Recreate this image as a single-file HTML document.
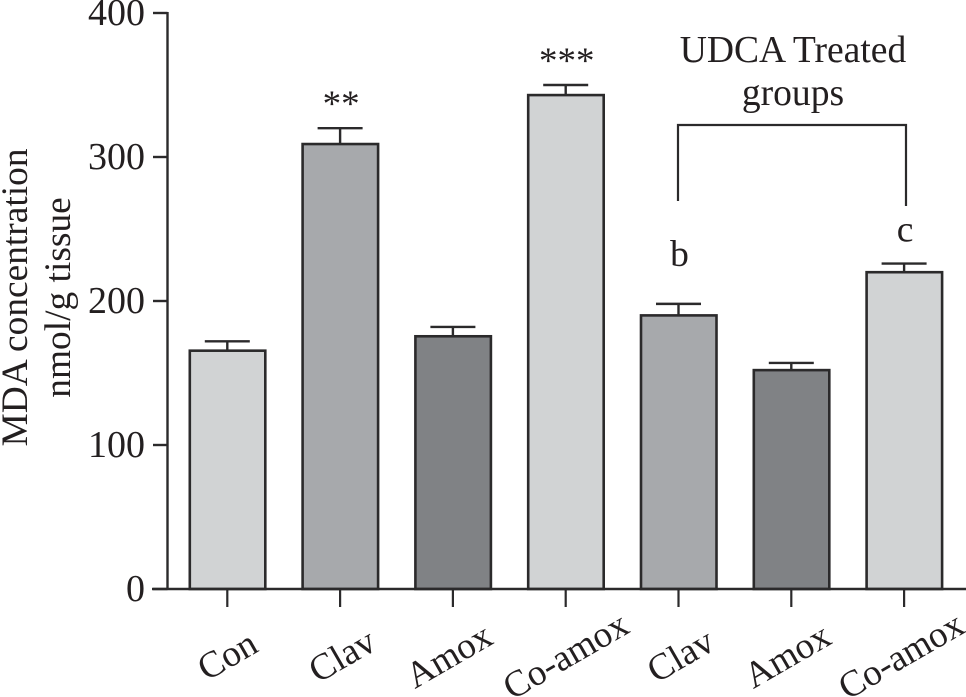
<!DOCTYPE html>
<html lang="en">
<head>
<meta charset="utf-8">
<title>MDA concentration bar chart</title>
<style>
html,body{margin:0;padding:0;background:#fff;}
svg{display:block;}
text{font-family:"Liberation Serif",serif;fill:#231f20;}
</style>
</head>
<body>
<svg id="chart" width="966" height="697" viewBox="0 0 966 697" xmlns="http://www.w3.org/2000/svg"></svg>
<script>
const categories = ['Con', 'Clav', 'Amox', 'Co-amox', 'Clav', 'Amox', 'Co-amox'];
const means = [165.5, 309, 175.5, 343, 190, 152, 220];
const errors = [6.5, 11, 6.5, 7, 8, 5, 6];
const yTicks = [0, 100, 200, 300, 400];
const barFills = ['#d1d3d4', '#a7a9ac', '#808285', '#d1d3d4', '#a7a9ac', '#808285', '#d1d3d4'];
const marks = ['', '**', '', '***', 'b', '', 'c'];

const svg = document.getElementById('chart');
const NS = 'http://www.w3.org/2000/svg';
const INK = '#2b2a2b';
const yScale = v => 589 - v * 1.44;
const xScale = i => 227.3 + i * 112.8;

function add(tag, attrs, parent, text) {
  const el = document.createElementNS(NS, tag);
  for (const k in attrs) el.setAttribute(k, attrs[k]);
  if (text !== undefined) el.textContent = text;
  (parent || svg).appendChild(el);
  return el;
}

function markBaseline(mark, errTop) {
  if (mark[0] === '*') return errTop - 12;
  if (mark === 'b') return errTop - 38;
  return errTop - 22;
}

function labelNudge(label, i) {
  if (label === 'Clav') return 2;
  if (label === 'Amox') return -4;
  if (label === 'Co-amox' && i > 3) return -3;
  return 0;
}

means.forEach((m, i) => {
  const cx = xScale(i);
  const top = yScale(m);
  const errTop = yScale(m + errors[i]);
  const stem = add('line', {x1: cx, x2: cx, y1: top, y2: errTop, stroke: INK, 'stroke-width': 2.4});
  
  
  const cap = add('line', {x1: cx - 22.5, x2: cx + 22.5, y1: errTop, y2: errTop, stroke: INK, 'stroke-width': 2.4});
  
  
  const bar = add('rect', {x: cx - 37.5, y: top, width: 75.5, height: 589 - top, fill: barFills[i], stroke: INK, 'stroke-width': 2.6});
  
  
  const tick = add('line', {x1: cx, x2: cx, y1: 589, y2: 607, stroke: INK, 'stroke-width': 2.2});
  
  
  const ax = cx + 6 + labelNudge(categories[i], i);
  const ay = 666;
  const lab = add('text', {x: ax, y: ay, 'font-size': 37, 'text-anchor': 'middle', transform: 'rotate(-30 ' + ax + ' ' + ay + ')'}, svg, categories[i]);
  
  
  if (marks[i]) {
    const isStar = marks[i][0] === '*';
    const mk = add('text', {x: cx + 1, y: markBaseline(marks[i], errTop), 'font-size': isStar ? 37 : 37.5, 'text-anchor': 'middle'}, svg, marks[i]);
    
    
  }
});

const yAxis = add('line', {x1: 167.5, x2: 167.5, y1: 12, y2: 590, stroke: INK, 'stroke-width': 2.4});


const xAxis = add('line', {x1: 152, x2: 966, y1: 589, y2: 589, stroke: INK, 'stroke-width': 2.6});



yTicks.forEach(v => {
  const y = yScale(v);
  const t = add('line', {x1: 153, x2: 167.5, y1: y, y2: y, stroke: INK, 'stroke-width': 2.4});
  
  
  const l = add('text', {x: 145, y: y + 12, 'font-size': 38, 'text-anchor': 'end'}, svg, String(v));
  
  
});

const yTitle1 = add('text', {x: 0, y: 0, 'font-size': 37.4, 'text-anchor': 'middle', transform: 'translate(27 297.5) rotate(-90)'}, svg, 'MDA concentration');


const yTitle2 = add('text', {x: 0, y: 0, 'font-size': 37.4, 'text-anchor': 'middle', transform: 'translate(70 297.5) rotate(-90)'}, svg, 'nmol/g tissue');



const bracket = add('path', {d: 'M678 201V125H906V206', fill: 'none', stroke: INK, 'stroke-width': 2.2});


const g1 = add('text', {x: 793, y: 62, 'font-size': 37.6, 'text-anchor': 'middle'}, svg, 'UDCA Treated');


const g2 = add('text', {x: 793, y: 105, 'font-size': 37.6, 'text-anchor': 'middle'}, svg, 'groups');


</script>
</body>
</html>
